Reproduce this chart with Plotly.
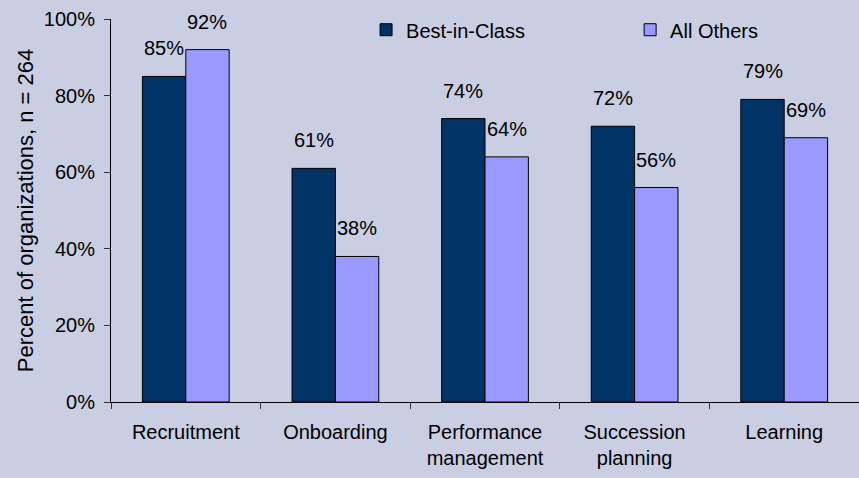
import plotly.graph_objects as go

categories = ["Recruitment", "Onboarding", "Performance<br>management", "Succession<br>planning", "Learning"]
best_in_class = [85, 61, 74, 72, 79]
all_others = [92, 38, 64, 56, 69]
y_ticks = [0, 20, 40, 60, 80, 100]

bg = "#C9CEE2"
font = "Liberation Sans, Arial, sans-serif"
xs = list(range(len(categories)))

fig = go.Figure()
fig.add_trace(go.Bar(x=xs, y=best_in_class, name="Best-in-Class", legend="legend",
                     marker=dict(color="#003366", line=dict(color="black", width=1))))
fig.add_trace(go.Bar(x=xs, y=all_others, name="All Others", legend="legend2",
                     marker=dict(color="#9999FF", line=dict(color="black", width=1))))

# value labels above each bar
for i in xs:
    for off, vals in ((-0.145, best_in_class), (0.145, all_others)):
        fig.add_annotation(x=i + off, y=vals[i], text=f"{vals[i]}%", showarrow=False,
                           yshift=28, font=dict(size=20, color="black", family=font))

leg = dict(orientation="h", yanchor="middle", xanchor="left", y=0.972,
           bgcolor="rgba(0,0,0,0)", font=dict(size=20))
fig.update_layout(
    width=859, height=478,
    paper_bgcolor=bg, plot_bgcolor=bg,
    margin=dict(l=111, r=0, t=19, b=76),
    barmode="group", bargap=0.42, bargroupgap=0,
    font=dict(family=font, size=20, color="black"),
    showlegend=True,
    legend=dict(leg, x=0.341),
    legend2=dict(leg, x=0.694),
)
fig.update_xaxes(range=[-0.5, 4.5], tickvals=xs, ticktext=categories, ticks="",
                 showline=True, linecolor="black", linewidth=1, showgrid=False,
                 zeroline=False, tickfont=dict(size=20), ticklabelstandoff=12,
                 minor=dict(tickvals=[-0.5, 0.5, 1.5, 2.5, 3.5, 4.5], ticks="outside",
                            ticklen=6, tickcolor="#333", showgrid=False))
fig.update_yaxes(range=[0, 100], tickvals=y_ticks, ticktext=[f"{v}%" for v in y_ticks],
                 ticks="outside", ticklen=6, tickcolor="#333", showline=True,
                 linecolor="black", linewidth=1, showgrid=False, zeroline=False,
                 tickfont=dict(size=20), ticklabelstandoff=5,
                 title=dict(text="Percent of organizations, n = 264", font=dict(size=22),
                            standoff=4))

fig.write_html("out.html", config={"displayModeBar": False},
               post_script="document.body.style.margin='0';")
